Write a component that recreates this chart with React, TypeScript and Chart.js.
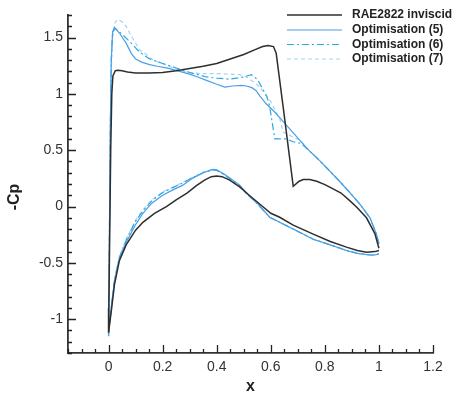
import React, { useEffect, useRef } from 'react';
import { Chart, registerables } from 'chart.js';

Chart.register(...registerables);

const xTicks = [0, 0.2, 0.4, 0.6, 0.8, 1, 1.2];
const xTickLabels = ['0', '0.2', '0.4', '0.6', '0.8', '1', '1.2'];
const yTicks = [-1, -0.5, 0, 0.5, 1, 1.5];
const yTickLabels = ['-1', '-0.5', '0', '0.5', '1', '1.5'];

const seriesLabels = ['RAE2822 inviscid', 'Optimisation (5)', 'Optimisation (6)', 'Optimisation (7)'];

// path: upper surface from trailing edge to leading edge, then lower surface back to trailing edge
const baseX = [
  1.0, 0.985, 0.954, 0.92, 0.893, 0.86, 0.82, 0.8, 0.77, 0.744, 0.72, 0.705, 0.683, 0.646, 0.62, 0.61, 0.59, 0.57, 0.54, 0.5,
  0.45, 0.4, 0.35, 0.3, 0.25, 0.2, 0.15, 0.1, 0.07, 0.05, 0.035, 0.025, 0.016, 0.012, 0.008, 0.004, 0.001, 0.0,
  0.01, 0.022, 0.04, 0.065, 0.1, 0.127, 0.17, 0.214, 0.25, 0.29, 0.325, 0.355, 0.38, 0.4, 0.42, 0.448, 0.485, 0.52,
  0.56, 0.6, 0.633, 0.683, 0.757, 0.82, 0.88, 0.92, 0.954, 0.985, 1.0,
];
const baseCp = [
  -0.37, -0.24, -0.1, -0.01, 0.05, 0.12, 0.17, 0.195, 0.225, 0.24, 0.24, 0.225, 0.18, 0.88, 1.36, 1.42, 1.43, 1.42, 1.39, 1.35,
  1.31, 1.27, 1.245, 1.225, 1.205, 1.19, 1.185, 1.185, 1.195, 1.205, 1.21, 1.205, 1.16, 1.0, 0.5, -0.3, -0.9, -1.12,
  -0.93, -0.69, -0.48, -0.34, -0.21, -0.14, -0.06, 0.0, 0.06, 0.12, 0.185, 0.235, 0.265, 0.272, 0.265, 0.235, 0.175, 0.1,
  0.02, -0.06, -0.095, -0.165, -0.245, -0.31, -0.36, -0.39, -0.405, -0.4, -0.39,
];

const opt5X = [
  1.0, 0.99, 0.967, 0.93, 0.89, 0.856, 0.82, 0.78, 0.74, 0.707, 0.67, 0.633, 0.61, 0.584, 0.56, 0.545, 0.53, 0.51, 0.49, 0.46,
  0.43, 0.4, 0.362, 0.33, 0.3, 0.263, 0.24, 0.214, 0.18, 0.152, 0.125, 0.1, 0.084, 0.065, 0.04, 0.022, 0.015, 0.01, 0.006,
  0.003, 0.001, 0.0,
  0.003, 0.01, 0.022, 0.04, 0.065, 0.1, 0.127, 0.16, 0.2, 0.24, 0.275, 0.31, 0.35, 0.386, 0.4, 0.423, 0.45, 0.485, 0.51,
  0.55, 0.596, 0.633, 0.683, 0.757, 0.82, 0.88, 0.92, 0.967, 0.985, 1.0,
];
const opt5Cp = [
  -0.33, -0.24, -0.1, 0.02, 0.13, 0.22, 0.31, 0.41, 0.5, 0.59, 0.69, 0.79, 0.85, 0.91, 0.98, 1.03, 1.055, 1.07, 1.075, 1.07,
  1.06, 1.085, 1.12, 1.15, 1.175, 1.2, 1.215, 1.23, 1.245, 1.26, 1.28, 1.31, 1.36, 1.45, 1.54, 1.59, 1.55, 1.3, 0.6,
  -0.3, -0.9, -1.15,
  -1.05, -0.9, -0.66, -0.46, -0.32, -0.16, -0.06, 0.03, 0.1, 0.15, 0.19, 0.25, 0.3, 0.33, 0.325, 0.295, 0.25, 0.19, 0.12,
  0.03, -0.095, -0.14, -0.2, -0.29, -0.34, -0.39, -0.415, -0.43, -0.43, -0.42,
];

const opt6X = [
  1.0, 0.99, 0.967, 0.93, 0.89, 0.856, 0.82, 0.78, 0.74, 0.713, 0.683, 0.657, 0.615, 0.605, 0.595, 0.585, 0.571, 0.55, 0.528,
  0.5, 0.448, 0.4, 0.362, 0.3, 0.25, 0.2, 0.152, 0.115, 0.08, 0.05, 0.025, 0.015, 0.01, 0.006, 0.003, 0.0,
  0.003, 0.01, 0.022, 0.04, 0.065, 0.1, 0.127, 0.16, 0.2, 0.24, 0.275, 0.31, 0.35, 0.386, 0.4, 0.423, 0.45, 0.485, 0.51,
  0.55, 0.596, 0.633, 0.683, 0.757, 0.82, 0.88, 0.92, 0.967, 0.985, 1.0,
];
const opt6Cp = [
  -0.33, -0.24, -0.1, 0.02, 0.13, 0.22, 0.31, 0.41, 0.5, 0.56, 0.575, 0.6, 0.6, 0.75, 0.9, 0.98, 1.04, 1.13, 1.17,
  1.15, 1.13, 1.14, 1.15, 1.19, 1.23, 1.27, 1.31, 1.37, 1.46, 1.53, 1.58, 1.55, 1.3, 0.6, -0.3, -1.15,
  -1.05, -0.9, -0.65, -0.45, -0.3, -0.13, -0.04, 0.05, 0.125, 0.17, 0.21, 0.255, 0.3, 0.325, 0.32, 0.29, 0.245, 0.185, 0.115,
  0.025, -0.095, -0.14, -0.2, -0.29, -0.34, -0.39, -0.415, -0.43, -0.43, -0.42,
];

const opt7X = [
  1.0, 0.99, 0.967, 0.93, 0.89, 0.856, 0.82, 0.78, 0.74, 0.707, 0.68, 0.646, 0.633, 0.6, 0.584, 0.56, 0.534, 0.51, 0.485,
  0.45, 0.41, 0.37, 0.337, 0.3, 0.263, 0.238, 0.2, 0.164, 0.14, 0.115, 0.1, 0.078, 0.065, 0.05, 0.035, 0.025, 0.015, 0.01,
  0.006, 0.003, 0.0,
  0.003, 0.01, 0.022, 0.04, 0.065, 0.1, 0.127, 0.16, 0.2, 0.24, 0.275, 0.31, 0.35, 0.386, 0.4, 0.423, 0.45, 0.485, 0.51,
  0.55, 0.596, 0.633, 0.683, 0.757, 0.82, 0.88, 0.92, 0.967, 0.985, 1.0,
];
const opt7Cp = [
  -0.33, -0.24, -0.1, 0.02, 0.13, 0.22, 0.31, 0.41, 0.5, 0.59, 0.62, 0.66, 0.78, 0.93, 0.98, 1.06, 1.11, 1.15, 1.17,
  1.175, 1.18, 1.18, 1.18, 1.19, 1.21, 1.23, 1.27, 1.3, 1.35, 1.39, 1.45, 1.54, 1.6, 1.64, 1.66, 1.64, 1.5, 1.2,
  0.6, -0.3, -1.14,
  -1.05, -0.9, -0.65, -0.45, -0.29, -0.12, -0.03, 0.06, 0.13, 0.175, 0.215, 0.26, 0.305, 0.33, 0.325, 0.29, 0.245, 0.185, 0.115,
  0.025, -0.095, -0.14, -0.2, -0.29, -0.34, -0.39, -0.415, -0.43, -0.43, -0.42,
];

const FONT = '"Liberation Sans", Arial, sans-serif';

const toPoints = (xs: number[], ys: number[]) => xs.map((x, i) => ({ x, y: ys[i] }));

const decorPlugin = {
  id: 'decor',
  afterDraw(chart: any) {
    const { ctx, chartArea, scales } = chart;
    const sx = scales.x;
    const sy = scales.y;
    ctx.save();
    ctx.setLineDash([]);
    ctx.strokeStyle = '#222';
    ctx.lineWidth = 1.3;
    ctx.beginPath();
    for (let i = -3; i <= 24; i++) {
      const v = i * 0.05;
      const px = Math.round(sx.getPixelForValue(v)) + 0.5;
      const len = i % 4 === 0 ? 8 : 4;
      ctx.moveTo(px, chartArea.bottom);
      ctx.lineTo(px, chartArea.bottom - len);
    }
    for (let i = -13; i <= 17; i++) {
      const v = i * 0.1;
      const py = Math.round(sy.getPixelForValue(v)) + 0.5;
      const len = i % 5 === 0 ? 8 : 4;
      ctx.moveTo(chartArea.left, py);
      ctx.lineTo(chartArea.left + len, py);
    }
    ctx.stroke();

    // y title
    ctx.save();
    ctx.translate(15, 197);
    ctx.rotate(-Math.PI / 2);
    ctx.fillStyle = '#222';
    ctx.font = 'bold 16px ' + FONT;
    ctx.textAlign = 'center';
    ctx.textBaseline = 'middle';
    ctx.fillText('-Cp', 0, 0);
    ctx.restore();

    // legend
    const rows = [15, 30, 44.5, 59];
    chart.data.datasets.forEach((ds: any, i: number) => {
      const y = rows[i];
      ctx.save();
      ctx.strokeStyle = ds.borderColor;
      ctx.lineWidth = ds.borderWidth;
      ctx.setLineDash(ds.borderDash || []);
      ctx.beginPath();
      ctx.moveTo(287, y);
      ctx.lineTo(342, y);
      ctx.stroke();
      ctx.restore();
      ctx.fillStyle = '#222';
      ctx.font = 'bold 12px ' + FONT;
      ctx.textAlign = 'left';
      ctx.textBaseline = 'middle';
      ctx.fillText(ds.label, 352, y);
    });
    ctx.restore();
  },
};

export default function App() {
  const ref = useRef<HTMLCanvasElement | null>(null);
  useEffect(() => {
    if (!ref.current) return;
    const common = { showLine: true, pointRadius: 0, pointHoverRadius: 0, fill: false, tension: 0 };
    const chart = new Chart(ref.current, {
      type: 'scatter',
      data: {
        datasets: [
          { ...common, label: seriesLabels[0], data: toPoints(baseX, baseCp), borderColor: '#2e2e2e', borderWidth: 1.5, borderDash: [] },
          { ...common, label: seriesLabels[1], data: toPoints(opt5X, opt5Cp), borderColor: '#4b9fe6', borderWidth: 1.2, borderDash: [] },
          { ...common, label: seriesLabels[2], data: toPoints(opt6X, opt6Cp), borderColor: '#2ea8e2', borderWidth: 1.2, borderDash: [7, 3, 2, 3] },
          { ...common, label: seriesLabels[3], data: toPoints(opt7X, opt7Cp), borderColor: '#9fd3f7', borderWidth: 1.2, borderDash: [4, 3] },
        ],
      },
      options: {
        animation: false,
        responsive: false,
        layout: { padding: { top: 15, right: 25, bottom: 0, left: 0 } },
        plugins: { legend: { display: false }, tooltip: { enabled: false } },
        scales: {
          x: {
            type: 'linear',
            min: -0.15,
            max: 1.2,
            afterBuildTicks: (s: any) => { s.ticks = xTicks.map((v) => ({ value: v })); },
            afterFit: (s: any) => { s.height = 43; },
            grid: { display: false, drawTicks: false },
            border: { display: true, color: '#333', width: 1.8 },
            ticks: {
              padding: 6,
              color: '#333',
              font: { family: FONT, size: 14 },
              maxRotation: 0,
              callback: (_v: any, i: number) => xTickLabels[i],
            },
            title: { display: true, text: 'x', color: '#222', font: { family: FONT, size: 16, weight: 'bold' }, padding: { top: 0, bottom: 0 } },
          },
          y: {
            type: 'linear',
            min: -1.3,
            max: 1.7,
            afterBuildTicks: (s: any) => { s.ticks = yTicks.map((v) => ({ value: v })); },
            afterFit: (s: any) => { s.width = 68; },
            grid: { display: false, drawTicks: false },
            border: { display: true, color: '#333', width: 1.8 },
            ticks: {
              padding: 5,
              color: '#333',
              font: { family: FONT, size: 14 },
              callback: (_v: any, i: number) => yTickLabels[i],
            },
          },
        },
      } as any,
      plugins: [decorPlugin],
    });
    return () => chart.destroy();
  }, []);
  return (
    <div style={{ position: 'fixed', left: 0, top: 0, width: 458, height: 396, background: '#fff' }}>
      <canvas ref={ref} width={458} height={396} style={{ display: 'block' }} />
    </div>
  );
}
